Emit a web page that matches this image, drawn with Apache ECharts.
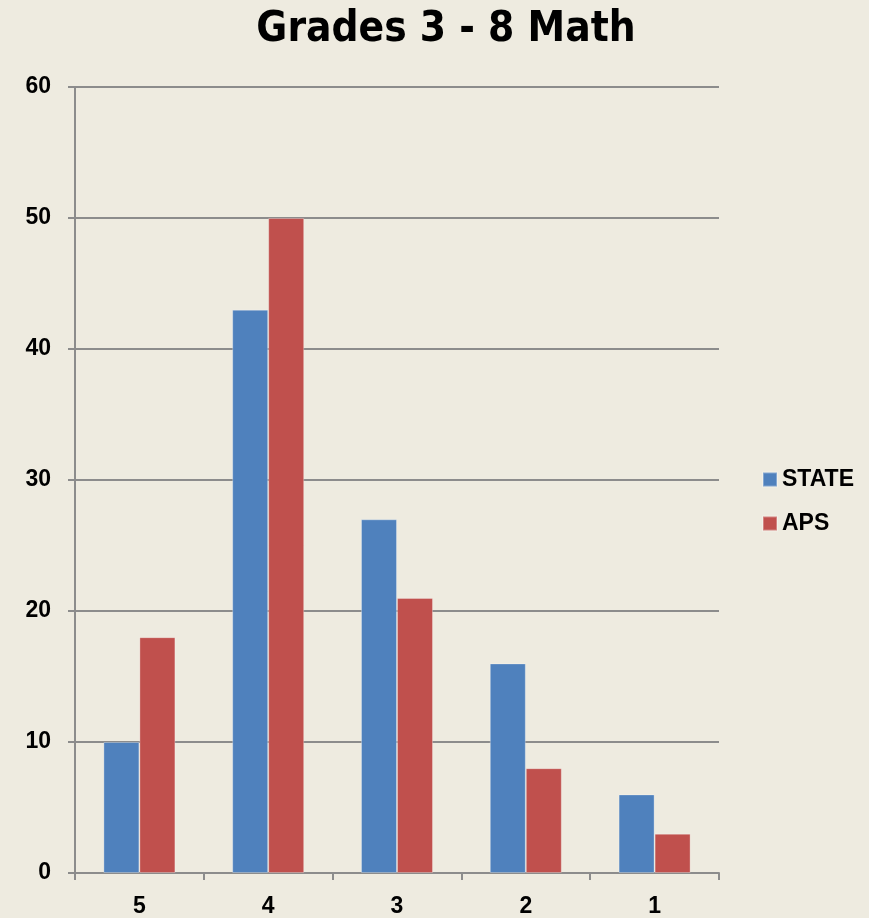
<!DOCTYPE html>
<html>
<head>
<meta charset="utf-8">
<script src="https://cdn.jsdelivr.net/npm/echarts@6/dist/echarts.min.js"></script>
<style>
  html, body { margin: 0; padding: 0; background: #eeebe0; }
  #chart { width: 869px; height: 918px; }
</style>
</head>
<body>
<div id="chart"></div>
<script>
const categories = ["5", "4", "3", "2", "1"];
const stateValues = [10, 43, 27, 16, 6];
const apsValues = [18, 50, 21, 8, 3];
const yTicks = { min: 0, max: 60, interval: 10 };

const titleFont = "'DejaVu Sans Condensed', 'Liberation Sans Narrow', 'Liberation Sans', sans-serif";
const font = "'Liberation Sans', Arial, sans-serif";

const chart = echarts.init(document.getElementById("chart"));
chart.setOption({
  backgroundColor: "#eeebe0",
  animation: false,
  title: {
    text: "Grades 3 - 8 Math",
    left: 441,
    textAlign: "center",
    top: 4,
    textStyle: {
      fontFamily: titleFont,
      fontSize: 42,
      fontWeight: "bold",
      color: "#000",
    },
  },
  legend: {
    orient: "vertical",
    left: 757,
    top: 463,
    itemWidth: 14,
    itemHeight: 14,
    itemGap: 21,
    icon: "rect",
    textStyle: {
      fontFamily: font,
      fontSize: 23,
      fontWeight: "bold",
      color: "#000",
    },
    data: ["STATE", "APS"],
  },
  grid: {
    left: 75,
    right: 150,
    top: 87,
    bottom: 43,
    containLabel: false,
  },
  xAxis: {
    type: "category",
    data: categories,
    axisLine: { lineStyle: { color: "#8c8c8c", width: 2 } },
    axisTick: { show: true, length: 7, lineStyle: { color: "#8c8c8c", width: 2 } },
    axisLabel: {
      fontFamily: font,
      fontSize: 23,
      fontWeight: "bold",
      color: "#000",
      margin: 22,
    },
  },
  yAxis: {
    type: "value",
    min: yTicks.min,
    max: yTicks.max,
    interval: yTicks.interval,
    axisLine: { show: true, lineStyle: { color: "#8c8c8c", width: 2 } },
    axisTick: { show: true, length: 7, lineStyle: { color: "#8c8c8c", width: 2 } },
    splitLine: { lineStyle: { color: "#8c8c8c", width: 2 } },
    axisLabel: {
      fontFamily: font,
      fontSize: 23,
      fontWeight: "bold",
      color: "#000",
      margin: 24,
    },
  },
  series: [
    {
      name: "STATE",
      type: "bar",
      data: stateValues,
      barWidth: 36,
      barGap: "0%",
      itemStyle: { color: "#4f81bd", borderColor: "rgba(255,255,255,0.3)", borderWidth: 1 },
    },
    {
      name: "APS",
      type: "bar",
      data: apsValues,
      barWidth: 36,
      itemStyle: { color: "#c0504d", borderColor: "rgba(255,255,255,0.3)", borderWidth: 1 },
    },
  ],
});
</script>
</body>
</html>
